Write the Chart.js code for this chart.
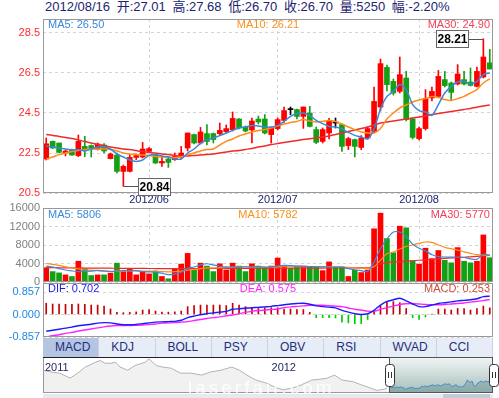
<!DOCTYPE html>
<html>
<head>
<meta charset="utf-8">
<title>K线图</title>
<script src="https://cdn.jsdelivr.net/npm/chart.js@4.4.1/dist/chart.umd.min.js"></script>
<style>
  html, body { margin: 0; padding: 0; background: #fff; }
  body { width: 499px; height: 398px; position: relative; overflow: hidden;
         font-family: "Liberation Sans", Arial, "Noto Sans CJK SC", sans-serif; }
  canvas { position: absolute; left: 0; }
  #title { position: absolute; left: 45px; top: 0; font-size: 13px; line-height: 13px; word-spacing: 3px;
           color: #1b2570; white-space: nowrap; }
  .lg { position: absolute; font-size: 11px; line-height: 11px; white-space: nowrap; }
  .mid { transform: translateX(-50%); }
  #tabs { position: absolute; left: 43px; top: 338px; width: 450px; height: 19px;
          display: flex; background: #e7edf7; }
  #tabs span { flex: 1; box-sizing: border-box; padding-left: 12px; font-size: 12px;
               line-height: 19px; color: #1f2d7a; border-right: 1px solid #c9d3e6; }
  #tabs span.on { background: #b4c5e3; }
  #scroll { position: absolute; left: 43px; top: 394px; width: 450px; height: 4px; background: #e6e9ef; }
  #scroll div { position: absolute; left: 400px; width: 47px; height: 4px; background: #c2ccd9; }
  #mark { position: absolute; left: 188px; top: 377px; font-size: 19px; letter-spacing: 3px;
          color: rgba(255,255,255,0.85); white-space: nowrap; }
</style>
</head>
<body>
<div id="title"></div>
<canvas id="priceChart" width="499" height="199" style="top:9px"></canvas>
<canvas id="volChart" width="499" height="94" style="top:198px"></canvas>
<canvas id="macdChart" width="499" height="74" style="top:273px"></canvas>
<canvas id="navChart" width="499" height="46" style="top:350px"></canvas>

<div class="lg" id="pMa5" style="left:48px;top:19px;color:#3a88d8"></div>
<div class="lg mid" id="pMa10" style="left:268px;top:19px;color:#f7901e"></div>
<div class="lg" id="pMa30" style="right:9px;top:19px;color:#f2405a"></div>
<div class="lg" id="vMa5" style="left:48px;top:209px;color:#3a88d8"></div>
<div class="lg mid" id="vMa10" style="left:268px;top:209px;color:#f7901e"></div>
<div class="lg" id="vMa30" style="right:9px;top:209px;color:#f2405a"></div>
<div class="lg" id="mDif" style="left:48px;top:283px;color:#1a1aee"></div>
<div class="lg mid" id="mDea" style="left:268px;top:283px;color:#ff22ff"></div>
<div class="lg" id="mMacd" style="right:9px;top:283px;color:#d04a3a"></div>

<div id="tabs"><span class="on">MACD</span><span>KDJ</span><span>BOLL</span><span>PSY</span><span>OBV</span><span>RSI</span><span>WVAD</span><span>CCI</span></div>
<div id="scroll"><div></div></div>
<div id="mark">laserfair.com</div>

<script>
(function () {
  "use strict";

  // trading days, 2012/05/10 - 2012/08/16
  var year = "2012";
  var dates = [
    "05/10","05/11","05/14","05/15","05/16","05/17","05/18","05/21","05/22","05/23","05/24","05/25","05/28","05/29","05/30","05/31",
    "06/01","06/04","06/05","06/06","06/07","06/08","06/11","06/12","06/13","06/14","06/15","06/18","06/19","06/20","06/21","06/25","06/26","06/27","06/28","06/29",
    "07/02","07/03","07/04","07/05","07/06","07/09","07/10","07/11","07/12","07/13","07/16","07/17","07/18","07/19","07/20","07/23","07/24","07/25","07/26","07/27","07/30","07/31",
    "08/01","08/02","08/03","08/06","08/07","08/08","08/09","08/10","08/13","08/14","08/15","08/16"
  ];

  var open = [22.20,23.08,23.00,22.50,22.67,22.37,22.83,22.87,22.70,22.90,
              22.22,22.40,21.58,21.58,22.28,22.30,22.58,22.40,22.00,22.20,
              22.17,22.30,22.75,23.42,23.00,23.47,23.47,23.47,23.57,23.67,
              24.20,23.80,23.65,24.20,24.20,23.42,23.72,24.13,24.67,24.67,
              24.33,24.50,23.67,23.08,23.50,24.00,23.92,22.87,23.17,22.78,
              23.25,23.58,24.80,26.78,26.08,25.58,26.25,24.20,23.22,23.72,
              25.25,25.33,26.17,26.00,25.95,26.17,26.05,25.83,26.30,27.01];
  var high = [23.25,23.10,23.00,22.65,22.70,23.40,23.33,22.90,23.00,22.97,
              22.50,22.50,21.90,22.42,22.45,23.03,22.77,22.45,22.33,22.25,
              22.50,22.83,23.50,23.45,23.78,23.92,23.50,24.00,23.90,24.55,
              24.22,23.85,24.25,24.35,24.42,23.80,24.25,24.80,24.80,24.70,
              24.80,24.83,23.80,23.75,24.23,24.25,23.95,23.28,23.20,23.37,
              23.80,25.80,27.20,26.90,26.20,27.30,26.58,24.25,23.80,25.67,
              25.80,26.63,26.58,26.05,26.92,26.58,26.75,26.80,28.21,27.68];
  var low  = [22.15,22.72,22.50,22.35,22.38,22.32,22.32,22.30,22.65,22.50,
              22.20,21.50,20.84,21.55,22.17,22.25,22.55,21.97,21.83,21.78,
              22.13,22.20,22.60,22.95,22.95,22.90,23.00,23.40,23.50,23.60,
              23.70,23.55,23.00,23.95,23.45,23.00,23.65,24.03,24.42,24.20,
              23.73,23.80,22.97,23.00,23.20,23.75,22.58,22.67,22.30,22.67,
              23.20,23.50,24.60,25.60,25.40,25.50,24.10,23.20,23.15,23.65,
              25.10,25.30,25.80,25.17,25.90,25.90,25.85,25.80,26.25,26.70];
  var close = [22.96,22.75,22.53,22.60,22.40,23.08,22.67,22.70,22.95,22.60,
               22.45,21.58,21.83,22.28,22.37,22.70,22.72,22.00,22.08,22.03,
               22.33,22.50,23.50,23.00,23.55,23.08,23.17,23.63,23.72,24.23,
               23.75,23.60,24.10,24.05,23.50,23.78,24.17,24.62,24.67,24.33,
               24.80,23.83,23.03,23.67,24.12,24.00,22.83,23.22,22.83,23.25,
               23.72,25.08,26.97,25.92,25.50,26.42,24.17,23.28,23.72,25.22,
               25.58,26.33,25.87,25.53,26.45,25.95,25.88,26.58,27.30,26.70];

  var ma5  = [22.85,22.80,22.75,22.70,22.65,22.67,22.60,22.70,22.80,22.80,
              22.70,22.45,22.30,22.15,22.08,22.15,22.38,22.42,22.35,22.30,
              22.20,22.20,22.50,22.70,22.98,23.17,23.25,23.37,23.50,23.63,
              23.75,23.80,23.87,23.85,23.80,23.80,23.88,24.08,24.33,24.47,
              24.50,24.37,24.13,23.97,23.83,23.80,23.70,23.53,23.38,23.30,
              23.20,23.70,24.70,25.33,25.58,25.92,25.67,24.92,24.62,24.55,
              24.38,24.92,25.50,25.83,26.05,26.08,25.95,26.08,26.42,26.50];
  var ma10 = [22.20,22.30,22.42,22.50,22.58,22.63,22.67,22.70,22.70,22.70,
              22.67,22.60,22.50,22.45,22.42,22.40,22.38,22.33,22.30,22.30,
              22.28,22.30,22.42,22.50,22.60,22.67,22.70,22.90,23.08,23.20,
              23.35,23.45,23.55,23.62,23.67,23.75,23.85,23.95,24.03,24.08,
              24.17,24.10,24.05,24.08,24.12,24.08,23.95,23.80,23.67,23.55,
              23.50,23.50,23.72,24.20,24.50,24.75,24.90,25.05,25.15,25.22,
              25.33,25.28,25.17,25.12,25.22,25.33,25.50,25.67,26.00,26.21];
  var ma30 = [23.42,23.38,23.33,23.28,23.22,23.15,23.08,23.00,22.93,22.87,
              22.80,22.75,22.70,22.67,22.62,22.57,22.53,22.50,22.45,22.42,
              22.38,22.35,22.35,22.37,22.40,22.42,22.45,22.50,22.55,22.60,
              22.63,22.68,22.73,22.80,22.85,22.92,22.97,23.02,23.07,23.12,
              23.17,23.21,23.25,23.30,23.35,23.42,23.50,23.57,23.65,23.72,
              23.80,23.90,24.00,24.05,24.10,24.15,24.20,24.25,24.30,24.36,
              24.42,24.48,24.53,24.58,24.63,24.68,24.73,24.79,24.85,24.90];

  var volume = [3090,2250,1970,1540,1190,4490,2900,1400,1540,1540,
                1900,4070,2250,2950,1540,2250,1760,2390,1190,700,
                2740,3860,6180,2530,4070,3440,2250,3930,2600,4070,
                3440,2250,3930,3440,2950,3440,5190,3440,2950,3440,
                3440,3230,3370,2460,4350,3230,3230,1190,2530,2040,
                2600,11510,14880,9400,6320,12070,11720,4560,3860,7300,
                5050,6810,4700,4140,7440,4490,4140,4490,10180,5250];
  var volMa5  = [3440,3200,2900,2600,2400,2250,2300,2350,2500,2400,
                 2250,2350,2450,2500,2450,2250,2200,2150,1900,1600,
                 1700,2100,2950,3250,3700,3950,3700,3400,3250,3250,
                 3200,3300,3250,3250,3200,3200,3500,3600,3550,3450,
                 3400,3350,3300,3250,3300,3200,3200,2900,2650,2450,
                 2250,4300,7200,9300,10800,10800,9800,8200,7300,6700,
                 5900,5500,5400,5400,5400,5300,5000,4900,6000,5806];
  var volMa10 = [4000,3800,3600,3300,3050,2850,2650,2550,2450,2350,
                 2300,2350,2350,2400,2400,2350,2350,2300,2250,2200,
                 2250,2350,2550,2700,2900,3050,3050,3100,3150,3200,
                 3250,3250,3200,3200,3200,3200,3250,3300,3300,3300,
                 3300,3350,3350,3300,3300,3250,3250,3150,3050,2950,
                 2950,3300,4700,6100,6500,7150,7700,8000,8350,8650,
                 8550,8000,7500,7200,6900,6500,6200,5900,5800,5782];
  var volMa30 = [3100,3100,3080,3060,3050,3040,3030,3010,3000,2990,
                 2980,2970,2960,2950,2940,2930,2920,2910,2900,2890,
                 2880,2880,2880,2890,2900,2910,2920,2930,2940,2950,
                 2960,2960,2970,2970,2980,2980,2990,3000,3000,3000,
                 3010,3010,3020,3020,3030,3030,3040,3040,3050,3050,
                 3060,3400,3900,4200,4300,4400,4500,4600,4700,4800,
                 4900,5000,5100,5200,5300,5350,5450,5550,5650,5770];

  var dif = [-0.64,-0.60,-0.56,-0.52,-0.48,-0.43,-0.40,-0.37,-0.33,-0.31,
             -0.32,-0.36,-0.39,-0.39,-0.38,-0.35,-0.32,-0.29,-0.28,-0.27,
             -0.26,-0.22,-0.12,-0.06,-0.01,0.03,0.06,0.09,0.12,0.20,
             0.22,0.24,0.26,0.27,0.29,0.31,0.34,0.37,0.40,0.42,
             0.43,0.39,0.33,0.30,0.28,0.25,0.16,0.09,0.03,0.00,
             0.03,0.16,0.36,0.50,0.56,0.62,0.52,0.40,0.30,0.30,
             0.36,0.42,0.45,0.48,0.52,0.54,0.56,0.60,0.68,0.702];
  var dea = [-0.86,-0.81,-0.77,-0.72,-0.68,-0.63,-0.59,-0.55,-0.51,-0.47,
             -0.44,-0.42,-0.42,-0.42,-0.41,-0.40,-0.38,-0.36,-0.33,-0.32,
             -0.31,-0.29,-0.27,-0.23,-0.19,-0.15,-0.12,-0.09,-0.05,-0.02,
             0.03,0.08,0.12,0.15,0.17,0.19,0.21,0.26,0.29,0.31,
             0.33,0.35,0.35,0.35,0.34,0.32,0.30,0.25,0.20,0.17,
             0.13,0.12,0.20,0.26,0.32,0.38,0.41,0.42,0.40,0.38,
             0.37,0.37,0.38,0.40,0.42,0.44,0.47,0.50,0.53,0.575];
  var macd = [0.43,0.40,0.40,0.39,0.39,0.40,0.39,0.36,0.36,0.32,
              0.21,0.08,0.07,0.08,0.10,0.17,0.19,0.13,0.09,0.09,
              0.10,0.13,0.30,0.34,0.36,0.36,0.36,0.36,0.34,0.43,
              0.36,0.30,0.26,0.23,0.26,0.26,0.26,0.21,0.21,0.19,
              0.19,0.08,-0.12,-0.12,-0.12,-0.13,-0.29,-0.32,-0.35,-0.35,
              -0.19,0.10,0.32,0.49,0.49,0.45,0.23,-0.12,-0.19,-0.09,
              0.01,0.21,0.21,0.17,0.23,0.23,0.17,0.23,0.32,0.253];

  var priceTicks = [20.5, 22.5, 24.5, 26.5, 28.5];
  var volTicks = [0, 4000, 8000, 12000, 16000];
  var macdTicks = [-0.857, 0, 0.857];

  // navigator: longer history (day index, close) before the shown window
  var navDays = [0,5,11,18,23,28,35,38,41,45,48,51,56,61,68,70,75,79,85,91,
                 98,105,111,118,125,130,135,141,148,155,159,165,171,178,183,188,193,198,205,211,
                 217,221,226,228];
  var navVals = [32.5,31.5,30.8,28.0,30.8,34.3,37.1,38.0,36.5,36.4,37.1,34.3,32.5,35.2,37.1,39.0,35.2,34.3,33.6,30.8,
                 30.8,29.7,31.5,32.5,34.3,32.5,29.7,26.9,25.1,22.3,21.4,22.3,24.1,26.9,27.3,27.9,29.7,26.9,26.0,24.1,
                 22.3,21.0,21.7,22.3];
  var navStart = 229;
  var navYears = ["2011", "2012"];
  var navYearDays = [0, 150];

  var UP = "#ff0000", DOWN = "#14a014", DOJI = "#000000";
  var NAVY = "#1b2570";
  var FONT = '"Liberation Sans", Arial, sans-serif';

  Chart.defaults.font.family = FONT;
  Chart.defaults.font.size = 11;

  var last = close.length - 1;
  var candleColors = close.map(function (c, i) {
    return c > open[i] ? UP : (c < open[i] ? DOWN : DOJI);
  });
  var volColors = close.map(function (c, i) { return c > open[i] ? UP : DOWN; });
  var bodies = open.map(function (o, i) { return [o, close[i]]; });
  var wicks = low.map(function (l, i) { return [l, high[i]]; });

  function monthStart(i) {
    return i > 0 && dates[i].slice(0, 2) !== dates[i - 1].slice(0, 2);
  }

  function fixWidth(scale) { scale.width = 43; }

  function setTicks(values) {
    return function (scale) {
      scale.ticks = values.map(function (v) { return { value: v }; });
    };
  }

  function monthAxis(showLabels) {
    return {
      type: "category",
      offset: true,
      grid: { offset: false, color: "#d4d4d4", drawTicks: false },
      border: { display: false, dash: [3, 3] },
      ticks: {
        display: showLabels, autoSkip: false, maxRotation: 0, padding: 0, color: NAVY,
        callback: function (v) { return year + "/" + dates[v].slice(0, 2); }
      },
      afterBuildTicks: function (s) {
        s.ticks = s.ticks.filter(function (t) { return monthStart(t.value); });
      },
      afterFit: function (s) { s.height = showLabels ? 15 : 0; }
    };
  }

  function valueAxis(min, max, ticks, color, fmt) {
    return {
      min: min, max: max,
      afterBuildTicks: setTicks(ticks),
      ticks: { color: color, padding: 3, callback: fmt },
      grid: { color: "#d4d4d4", drawTicks: false },
      border: { display: false, dash: [3, 3] },
      afterFit: fixWidth
    };
  }

  function line(data, color, width) {
    return { type: "line", data: data, borderColor: color, borderWidth: width,
             pointRadius: 0, tension: 0.25, order: 0 };
  }

  var panelBorder = {
    id: "panelBorder",
    afterDatasetsDraw: function (chart) {
      var a = chart.chartArea, ctx = chart.ctx;
      ctx.save();
      ctx.strokeStyle = "#999";
      ctx.lineWidth = 1;
      ctx.strokeRect(Math.round(a.left) + 0.5, Math.round(a.top) + 0.5,
                     Math.round(a.right - a.left) - 1, Math.round(a.bottom - a.top) - 1);
      ctx.restore();
    }
  };

  function drawTag(ctx, px, py, text, dir) {
    var w = 32, h = 17, gap = 15;
    var bx = Math.round(dir > 0 ? px + gap : px - gap - w);
    var by = Math.round(py - h / 2);
    ctx.save();
    ctx.strokeStyle = "#555";
    ctx.lineWidth = 1;
    ctx.beginPath();
    ctx.moveTo(px, Math.round(py) + 0.5);
    ctx.lineTo(dir > 0 ? bx : bx + w, Math.round(py) + 0.5);
    ctx.stroke();
    ctx.fillStyle = "#fff";
    ctx.fillRect(bx, by, w, h);
    ctx.strokeStyle = "#666";
    ctx.strokeRect(bx + 0.5, by + 0.5, w, h);
    ctx.fillStyle = "#000";
    ctx.font = "bold 12px " + FONT;
    ctx.textAlign = "center";
    ctx.textBaseline = "middle";
    ctx.fillText(text, bx + w / 2 + 0.5, by + h / 2 + 1);
    ctx.restore();
  }

  var extremes = {
    id: "extremes",
    afterDatasetsDraw: function (chart) {
      var x = chart.scales.x, y = chart.scales.y;
      var hi = high.indexOf(Math.max.apply(null, high));
      var lo = low.indexOf(Math.min.apply(null, low));
      drawTag(chart.ctx, x.getPixelForValue(hi), y.getPixelForValue(high[hi]), high[hi].toFixed(2), -1);
      drawTag(chart.ctx, x.getPixelForValue(lo), y.getPixelForValue(low[lo]), low[lo].toFixed(2), 1);
    }
  };

  var common = {
    responsive: false,
    animation: false,
    plugins: { legend: { display: false }, tooltip: { enabled: false } }
  };

  /* price chart */
  new Chart(document.getElementById("priceChart"), {
    type: "bar",
    data: {
      labels: dates,
      datasets: [
        line(ma5, "#3a88d8", 1.5),
        line(ma10, "#ff8c1a", 1.5),
        line(ma30, "#f02a2a", 1.5),
        { data: bodies, backgroundColor: candleColors, barThickness: 5, minBarLength: 1, grouped: false, order: 1 },
        { data: wicks, backgroundColor: candleColors, barThickness: 1, grouped: false, order: 2 }
      ]
    },
    options: Object.assign({}, common, {
      layout: { padding: { top: 10, right: 6, left: 0, bottom: 0 } },
      scales: {
        x: monthAxis(true),
        y: valueAxis(20.5, 29.2, priceTicks, "#ff2a2a", function (v) { return v.toFixed(1); })
      }
    }),
    plugins: [panelBorder, extremes]
  });

  /* volume chart */
  new Chart(document.getElementById("volChart"), {
    type: "bar",
    data: {
      labels: dates,
      datasets: [
        line(volMa5, "#3a88d8", 1.2),
        line(volMa10, "#ff8c1a", 1.2),
        line(volMa30, "#f02a2a", 1.2),
        { data: volume, backgroundColor: volColors, barThickness: 5, order: 1 }
      ]
    },
    options: Object.assign({}, common, {
      layout: { padding: { top: 10, right: 6, left: 0, bottom: 10 } },
      scales: {
        x: monthAxis(false),
        y: valueAxis(0, 16000, volTicks, "#808080", function (v) { return String(v); })
      }
    }),
    plugins: [panelBorder]
  });

  /* macd chart */
  new Chart(document.getElementById("macdChart"), {
    type: "bar",
    data: {
      labels: dates,
      datasets: [
        line(dif, "#1a1aff", 1.4),
        line(dea, "#ff22ff", 1.4),
        { data: macd, barThickness: 1, order: 1,
          backgroundColor: macd.map(function (v) { return v >= 0 ? "#c40000" : "#00cc00"; }) }
      ]
    },
    options: Object.assign({}, common, {
      layout: { padding: { top: 10, right: 6, left: 0, bottom: 10 } },
      scales: {
        x: { type: "category", offset: true, display: false },
        y: valueAxis(-0.857, 1.2, macdTicks, "#1e88e5", function (v) { return v.toFixed(3); })
      }
    }),
    plugins: [panelBorder]
  });

  /* navigator */
  var navDecor = {
    id: "navDecor",
    beforeDatasetsDraw: function (chart) {
      var ctx = chart.ctx, a = chart.chartArea;
      var x0 = chart.scales.x.getPixelForValue(navStart);
      var g = ctx.createLinearGradient(0, a.top, 0, a.bottom);
      g.addColorStop(0, "#f2f6f5");
      g.addColorStop(1, "#a6bebb");
      ctx.save();
      ctx.fillStyle = g;
      ctx.fillRect(x0, a.top, a.right - x0, a.bottom - a.top);
      ctx.restore();
    },
    afterDraw: function (chart) {
      var ctx = chart.ctx, a = chart.chartArea, xs = chart.scales.x;
      var x0 = Math.round(xs.getPixelForValue(navStart));
      var x1 = Math.round(a.right);
      ctx.save();
      ctx.strokeStyle = "#9a9a9a";
      ctx.lineWidth = 1;
      ctx.strokeRect(Math.round(a.left) + 0.5, Math.round(a.top) + 0.5,
                     Math.round(a.right - a.left) - 1, Math.round(a.bottom - a.top) - 1);
      ctx.strokeStyle = "#222";
      ctx.beginPath();
      ctx.moveTo(a.left, Math.round(a.top) + 0.5);
      ctx.lineTo(a.right, Math.round(a.top) + 0.5);
      ctx.stroke();
      ctx.strokeStyle = "#555";
      ctx.strokeRect(x0 + 0.5, Math.round(a.top) + 0.5, x1 - x0 - 1, Math.round(a.bottom - a.top) - 1);

      ctx.fillStyle = "#222a60";
      ctx.font = "11px " + FONT;
      ctx.textBaseline = "middle";
      navYears.forEach(function (t, i) {
        ctx.fillText(t, xs.getPixelForValue(navYearDays[i]) + 2, a.top + 11);
      });

      [x0, x1].forEach(function (hx) {
        var w = 9, h = 22, top = Math.round(a.top + 7);
        var left = hx - Math.floor(w / 2);
        ctx.fillStyle = "#fff";
        ctx.strokeStyle = "#333";
        ctx.beginPath();
        ctx.roundRect(left + 0.5, top + 0.5, w, h, 3);
        ctx.fill();
        ctx.stroke();
        ctx.beginPath();
        ctx.moveTo(left + 3.5, top + 8); ctx.lineTo(left + 3.5, top + 14);
        ctx.moveTo(left + 6.5, top + 8); ctx.lineTo(left + 6.5, top + 14);
        ctx.stroke();
      });
      ctx.restore();
    }
  };

  new Chart(document.getElementById("navChart"), {
    type: "line",
    data: {
      datasets: [
        { data: navDays.map(function (d, i) { return { x: d, y: navVals[i] }; }),
          borderColor: "#b3b3b3", borderWidth: 1, pointRadius: 0, fill: "start", backgroundColor: "#f1f1f1" },
        { data: close.map(function (c, i) { return { x: navStart + i, y: c }; }),
          borderColor: "#3d8fc6", borderWidth: 1, pointRadius: 0, fill: "start",
          backgroundColor: "rgba(60,110,120,0.28)" }
      ]
    },
    options: Object.assign({}, common, {
      layout: { padding: { top: 7, right: 6, left: 43, bottom: 3 } },
      scales: {
        x: { type: "linear", display: false, min: 0, max: navStart + last },
        y: { display: false, min: 19.5, max: 40 }
      }
    }),
    plugins: [navDecor]
  });

  /* text */
  var chg = (close[last] - close[last - 1]) / close[last - 1] * 100;
  document.getElementById("title").textContent =
    year + "/" + dates[last] + " 开:" + open[last].toFixed(2) + " 高:" + high[last].toFixed(2) +
    " 低:" + low[last].toFixed(2) + " 收:" + close[last].toFixed(2) + " 量:" + volume[last] +
    " 幅:" + chg.toFixed(2) + "%";
  function put(id, text) { document.getElementById(id).textContent = text; }
  put("pMa5", "MA5: " + ma5[last].toFixed(2));
  put("pMa10", "MA10: " + ma10[last].toFixed(2));
  put("pMa30", "MA30: " + ma30[last].toFixed(2));
  put("vMa5", "MA5: " + volMa5[last]);
  put("vMa10", "MA10: " + volMa10[last]);
  put("vMa30", "MA30: " + volMa30[last]);
  put("mDif", "DIF: " + dif[last].toFixed(3));
  put("mDea", "DEA: " + dea[last].toFixed(3));
  put("mMacd", "MACD: " + macd[last].toFixed(3));
})();
</script>
</body>
</html>
